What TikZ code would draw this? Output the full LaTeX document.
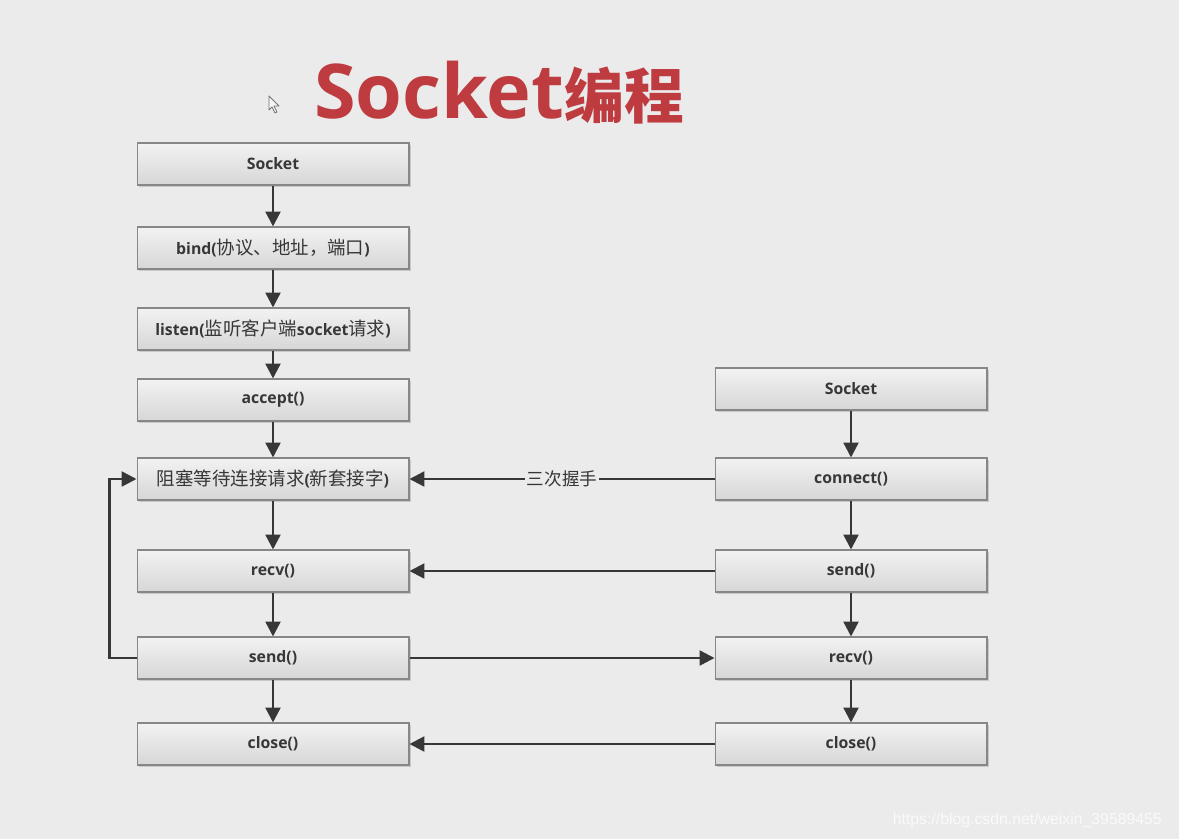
\documentclass[tikz,border=0pt]{standalone}
\usepackage{fontspec}
\setmainfont{Open Sans}
\newfontfamily\cjk{Noto Sans CJK SC}
\newfontfamily\wmfont{Liberation Sans}
\newcommand\zh[1]{{\cjk\mdseries\fontsize{10.5}{12}\selectfont #1}}
\usetikzlibrary{arrows.meta}
\usetikzlibrary{positioning}
\usetikzlibrary{shadows}
\definecolor{bg}{RGB}{235,235,235}
\definecolor{titlered}{RGB}{190,60,64}
\definecolor{ink}{RGB}{55,55,55}
\definecolor{boxline}{RGB}{135,135,135}
\tikzset{
  box/.style = {draw = boxline, line width = 0.6pt, top color = white!95!black,
    bottom color = white!84!black, minimum width = 5.44cm, minimum height = 0.84cm,
    inner sep = 0pt, text = ink, font = \bfseries\fontsize{9}{11}\selectfont,
    drop shadow = {shadow xshift = 1.2pt, shadow yshift = -1.2pt, fill = black!30, opacity = 0.6}},
  flow/.style = {-{Triangle[length = 8.5pt, width = 8.5pt]}, line width = 1.4pt, draw = ink},
  tag/.style = {fill = bg, inner sep = 1pt, text = ink, font = \cjk\fontsize{10}{12}\selectfont}
}

\begin{document}
\begin{tikzpicture}[x = 0.02cm, y = -0.02cm]
    \fill [bg] (0,0) rectangle (1179,839);
    \useasboundingbox (0,0) rectangle (1179,839);
    % title and cursor
    \node [text = titlered, font = \bfseries\fontsize{43}{48}\selectfont] (title) at (499,93)
      {Socket{\cjk\bfseries\fontsize{34}{37}\selectfont 编程}};
    \filldraw [fill = white!96!black, draw = black!55, line width = 0.5pt, line join = round]
      (269,96) -- (269,110) -- (272,107) -- (275,113) -- (277,112) -- (274,106) -- (279,106) -- cycle;
    % server side
    \node [box] (lsock)  at (273,164) {Socket};
    \node [box] (lbind)  at (273,248) {bind(\zh{协议、地址，端口})};
    \node [box] (llisten) at (273,329) {listen(\zh{监听客户端}socket\zh{请求})};
    \node [box] (laccept) at (273,400) {accept()};
    \node [box] (lwait)  at (273,479) {\zh{阻塞等待连接请求}(\zh{新套接字})};
    \node [box] (lrecv)  at (273,571) {recv()};
    \node [box] (lsend)  at (273,658) {send()};
    \node [box] (lclose) at (273,744) {close()};
    % client side
    \node [box] (rsock)  at (851,389) {Socket};
    \node [box] (rconn)  at (851,479) {connect()};
    \node [box] (rsend)  at (851,571) {send()};
    \node [box] (rrecv)  at (851,658) {recv()};
    \node [box] (rclose) at (851,744) {close()};
    % paths
    \draw [flow] (lsock) -- (lbind);
    \draw [flow] (lbind) -- (llisten);
    \draw [flow] (llisten) -- (laccept);
    \draw [flow] (laccept) -- (lwait);
    \draw [flow] (lwait) -- (lrecv);
    \draw [flow] (lrecv) -- (lsend);
    \draw [flow] (lsend) -- (lclose);
    \draw [flow] (lsend.west) -- ++(-27,0) |- (lwait.west);
    \draw [flow] (rsock) -- (rconn);
    \draw [flow] (rconn) -- (rsend);
    \draw [flow] (rsend) -- (rrecv);
    \draw [flow] (rrecv) -- (rclose);
    \draw [flow] (rconn) -- node [tag] {三次握手} (lwait);
    \draw [flow] (rsend) -- (lrecv);
    \draw [flow] (lsend) -- (rrecv);
    \draw [flow] (rclose) -- (lclose);
    % watermark
    \node [text = white!98!black, font = \wmfont\fontsize{9}{11}\selectfont, anchor = east] (mark) at (1168,820)
      {https://blog.csdn.net/weixin\_39589455};
\end{tikzpicture}
\end{document}
